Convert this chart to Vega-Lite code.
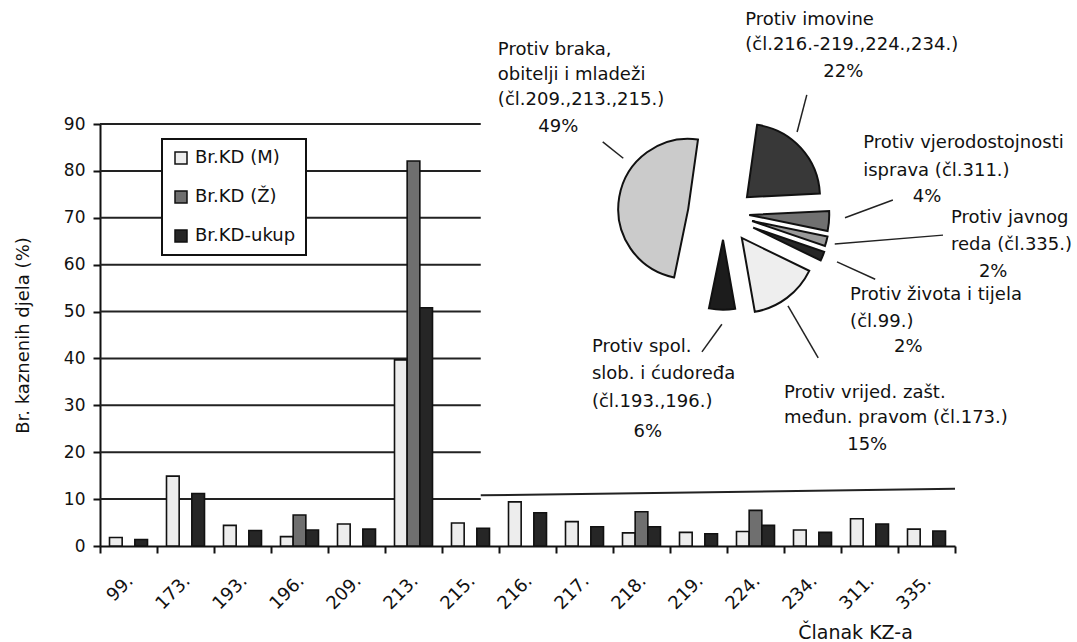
{
  "$schema": "https://vega.github.io/schema/vega-lite/v6.json",
  "width": 855,
  "height": 422,
  "autosize": {"type": "none"},
  "padding": {"left": 100, "top": 124, "right": 122, "bottom": 96},
  "background": "white",
  "config": {
    "view": {"stroke": null},
    "font": "DejaVu Sans",
    "axis": {
      "domainColor": "#111", "domainWidth": 2, "tickColor": "#111", "tickWidth": 2, "tickSize": 7,
      "labelColor": "#111", "labelFont": "DejaVu Sans", "titleFont": "DejaVu Sans",
      "titleColor": "#111", "titleFontWeight": "normal", "grid": false
    },
    "legend": {"labelFont": "DejaVu Sans", "strokeWidth": 2},
    "text": {"font": "DejaVu Sans"}
  },
  "datasets": {
    "bars": [
      {"art": "99.", "series": "Br.KD (M)", "val": 1.8}, {"art": "99.", "series": "Br.KD-ukup", "val": 1.4},
      {"art": "173.", "series": "Br.KD (M)", "val": 14.9}, {"art": "173.", "series": "Br.KD-ukup", "val": 11.2},
      {"art": "193.", "series": "Br.KD (M)", "val": 4.4}, {"art": "193.", "series": "Br.KD-ukup", "val": 3.3},
      {"art": "196.", "series": "Br.KD (M)", "val": 2.0}, {"art": "196.", "series": "Br.KD (Ž)", "val": 6.6}, {"art": "196.", "series": "Br.KD-ukup", "val": 3.4},
      {"art": "209.", "series": "Br.KD (M)", "val": 4.7}, {"art": "209.", "series": "Br.KD-ukup", "val": 3.6},
      {"art": "213.", "series": "Br.KD (M)", "val": 39.7}, {"art": "213.", "series": "Br.KD (Ž)", "val": 82.1}, {"art": "213.", "series": "Br.KD-ukup", "val": 50.8},
      {"art": "215.", "series": "Br.KD (M)", "val": 4.9}, {"art": "215.", "series": "Br.KD-ukup", "val": 3.8},
      {"art": "216.", "series": "Br.KD (M)", "val": 9.4}, {"art": "216.", "series": "Br.KD-ukup", "val": 7.1},
      {"art": "217.", "series": "Br.KD (M)", "val": 5.2}, {"art": "217.", "series": "Br.KD-ukup", "val": 4.1},
      {"art": "218.", "series": "Br.KD (M)", "val": 2.8}, {"art": "218.", "series": "Br.KD (Ž)", "val": 7.3}, {"art": "218.", "series": "Br.KD-ukup", "val": 4.1},
      {"art": "219.", "series": "Br.KD (M)", "val": 2.9}, {"art": "219.", "series": "Br.KD-ukup", "val": 2.6},
      {"art": "224.", "series": "Br.KD (M)", "val": 3.1}, {"art": "224.", "series": "Br.KD (Ž)", "val": 7.6}, {"art": "224.", "series": "Br.KD-ukup", "val": 4.4},
      {"art": "234.", "series": "Br.KD (M)", "val": 3.4}, {"art": "234.", "series": "Br.KD-ukup", "val": 2.9},
      {"art": "311.", "series": "Br.KD (M)", "val": 5.8}, {"art": "311.", "series": "Br.KD-ukup", "val": 4.7},
      {"art": "335.", "series": "Br.KD (M)", "val": 3.6}, {"art": "335.", "series": "Br.KD-ukup", "val": 3.2}
    ],
    "pie": [
      {"idx": 1, "slice": "imovine", "pct": 22},
      {"idx": 2, "slice": "vjerodostojnosti", "pct": 4},
      {"idx": 3, "slice": "javnog", "pct": 2},
      {"idx": 4, "slice": "zivota", "pct": 2},
      {"idx": 5, "slice": "vrijed", "pct": 15},
      {"idx": 6, "slice": "spol", "pct": 6},
      {"idx": 7, "slice": "braka", "pct": 49}
    ],
    "grid": [{"g": 20}, {"g": 30}, {"g": 40}, {"g": 50}, {"g": 60}, {"g": 70}, {"g": 80}, {"g": 90}],
    "one": [{"k": 1}]
  },
  "layer": [
    {
      "data": {"name": "grid"},
      "mark": {"type": "rule", "color": "#222", "strokeWidth": 2},
      "encoding": {
        "y": {"field": "g", "type": "quantitative"},
        "x": {"datum": "99.", "bandPosition": 0},
        "x2": {"datum": "215.", "bandPosition": 0.68}
      }
    },
    {
      "data": {"name": "one"},
      "mark": {"type": "rule", "color": "#222", "strokeWidth": 2},
      "encoding": {
        "y": {"datum": 10},
        "x": {"datum": "99.", "bandPosition": 0},
        "x2": {"datum": "215.", "bandPosition": 0.68}
      }
    },
    {
      "data": {"name": "one"},
      "mark": {"type": "rule", "color": "#222", "strokeWidth": 2},
      "encoding": {
        "y": {"datum": 10.8},
        "y2": {"datum": 12.2},
        "x": {"datum": "215.", "bandPosition": 0.68},
        "x2": {"datum": "335.", "bandPosition": 1}
      }
    },
    {
      "data": {"name": "bars"},
      "mark": {"type": "bar", "stroke": "#111", "strokeWidth": 1.6},
      "encoding": {
        "x": {
          "field": "art", "type": "nominal", "sort": null,
          "scale": {"domain": ["99.", "173.", "193.", "196.", "209.", "213.", "215.", "216.", "217.", "218.", "219.", "224.", "234.", "311.", "335."], "paddingInner": 0, "paddingOuter": 0},
          "axis": {"title": "Članak KZ-a", "labelAngle": -45, "labelFontSize": 18, "labelPadding": 25, "bandPosition": 1, "tickExtra": true, "labelOffset": 2, "titleFontSize": 19, "titleX": 755, "titleY": 86, "titleAlign": "center", "titleBaseline": "middle"}
        },
        "xOffset": {"field": "series", "type": "nominal", "scale": {"domain": ["Br.KD (M)", "Br.KD (Ž)", "Br.KD-ukup"], "paddingOuter": 0.75, "paddingInner": 0}},
        "y": {
          "field": "val", "type": "quantitative", "stack": null,
          "scale": {"domain": [0, 90], "nice": false},
          "axis": {"title": "Br. kaznenih djela (%)", "values": [0, 10, 20, 30, 40, 50, 60, 70, 80, 90], "labelFontSize": 17, "labelPadding": 8, "titleFontSize": 18, "titlePadding": 31}
        },
        "fill": {
          "field": "series", "type": "nominal",
          "scale": {"domain": ["Br.KD (M)", "Br.KD (Ž)", "Br.KD-ukup"], "range": ["#ededed", "#6f6f6f", "#262626"]},
          "legend": {
            "title": null, "orient": "none", "legendX": 62, "legendY": 15,
            "symbolType": "square", "symbolSize": 144, "symbolStrokeColor": "#111", "symbolStrokeWidth": 1.5,
            "labelFontSize": 18, "labelColor": "#111", "rowPadding": 21, "padding": 10,
            "strokeColor": "#111", "fillColor": "white", "labelOffset": 5
          }
        }
      }
    },
    {
      "data": {"name": "pie"},
      "transform": [{"stack": "pct", "groupby": [], "sort": [{"field": "idx"}], "as": ["t0", "t1"]}, {"filter": "datum.slice === 'imovine'"}],
      "mark": {"type": "arc", "radius": 73, "fill": "#383838", "stroke": "#111", "strokeWidth": 2},
      "encoding": {
        "theta": {"field": "t0", "type": "quantitative", "scale": {"domain": [0, 100], "range": [0.1396, 6.4228]}},
        "theta2": {"field": "t1"},
        "x": {"datum": "224.", "bandPosition": 0.35},
        "y": {"datum": 74.4}
      }
    },
    {
      "data": {"name": "pie"},
      "transform": [{"stack": "pct", "groupby": [], "sort": [{"field": "idx"}], "as": ["t0", "t1"]}, {"filter": "datum.slice === 'vjerodostojnosti'"}],
      "mark": {"type": "arc", "radius": 80, "fill": "#707070", "stroke": "#111", "strokeWidth": 2},
      "encoding": {
        "theta": {"field": "t0", "type": "quantitative"},
        "theta2": {"field": "t1"},
        "x": {"datum": "224.", "bandPosition": 0.39},
        "y": {"datum": 70.6}
      }
    },
    {
      "data": {"name": "pie"},
      "transform": [{"stack": "pct", "groupby": [], "sort": [{"field": "idx"}], "as": ["t0", "t1"]}, {"filter": "datum.slice === 'javnog'"}],
      "mark": {"type": "arc", "radius": 77, "fill": "#999999", "stroke": "#111", "strokeWidth": 2},
      "encoding": {
        "theta": {"field": "t0", "type": "quantitative"},
        "theta2": {"field": "t1"},
        "x": {"datum": "224.", "bandPosition": 0.44},
        "y": {"datum": 69.3}
      }
    },
    {
      "data": {"name": "pie"},
      "transform": [{"stack": "pct", "groupby": [], "sort": [{"field": "idx"}], "as": ["t0", "t1"]}, {"filter": "datum.slice === 'zivota'"}],
      "mark": {"type": "arc", "radius": 75, "fill": "#262626", "stroke": "#111", "strokeWidth": 2},
      "encoding": {
        "theta": {"field": "t0", "type": "quantitative"},
        "theta2": {"field": "t1"},
        "x": {"datum": "224.", "bandPosition": 0.46},
        "y": {"datum": 67.9}
      }
    },
    {
      "data": {"name": "pie"},
      "transform": [{"stack": "pct", "groupby": [], "sort": [{"field": "idx"}], "as": ["t0", "t1"]}, {"filter": "datum.slice === 'vrijed'"}],
      "mark": {"type": "arc", "radius": 75, "fill": "#eeeeee", "stroke": "#111", "strokeWidth": 2},
      "encoding": {
        "theta": {"field": "t0", "type": "quantitative"},
        "theta2": {"field": "t1"},
        "x": {"datum": "224.", "bandPosition": 0.26},
        "y": {"datum": 65.7}
      }
    },
    {
      "data": {"name": "pie"},
      "transform": [{"stack": "pct", "groupby": [], "sort": [{"field": "idx"}], "as": ["t0", "t1"]}, {"filter": "datum.slice === 'spol'"}],
      "mark": {"type": "arc", "radius": 70, "fill": "#1c1c1c", "stroke": "#111", "strokeWidth": 2},
      "encoding": {
        "theta": {"field": "t0", "type": "quantitative"},
        "theta2": {"field": "t1"},
        "x": {"datum": "219.", "bandPosition": 0.93},
        "y": {"datum": 65.3}
      }
    },
    {
      "data": {"name": "pie"},
      "transform": [{"stack": "pct", "groupby": [], "sort": [{"field": "idx"}], "as": ["t0", "t1"]}, {"filter": "datum.slice === 'braka'"}],
      "mark": {"type": "arc", "radius": 70, "fill": "#cbcbcb", "stroke": "#111", "strokeWidth": 2},
      "encoding": {
        "theta": {"field": "t0", "type": "quantitative"},
        "theta2": {"field": "t1"},
        "x": {"datum": "219.", "bandPosition": 0.32},
        "y": {"datum": 71.9}
      }
    },
    {
      "data": {"name": "one"},
      "mark": {"type": "rule", "color": "#222", "strokeWidth": 1.5},
      "encoding": {"x": {"datum": "234.", "bandPosition": 0.40}, "y": {"datum": 96.2}, "x2": {"datum": "234.", "bandPosition": 0.23}, "y2": {"datum": 88.3}}
    },
    {
      "data": {"name": "one"},
      "mark": {"type": "rule", "color": "#222", "strokeWidth": 1.5},
      "encoding": {"x": {"datum": "217.", "bandPosition": 0.82}, "y": {"datum": 86.2}, "x2": {"datum": "218.", "bandPosition": 0.18}, "y2": {"datum": 82.7}}
    },
    {
      "data": {"name": "one"},
      "mark": {"type": "rule", "color": "#222", "strokeWidth": 1.5},
      "encoding": {"x": {"datum": "311.", "bandPosition": 0.91}, "y": {"datum": 73.8}, "x2": {"datum": "311.", "bandPosition": 0.07}, "y2": {"datum": 70.0}}
    },
    {
      "data": {"name": "one"},
      "mark": {"type": "rule", "color": "#222", "strokeWidth": 1.5},
      "encoding": {"x": {"datum": "335.", "bandPosition": 0.79}, "y": {"datum": 66.3}, "x2": {"datum": "234.", "bandPosition": 0.89}, "y2": {"datum": 64.4}}
    },
    {
      "data": {"name": "one"},
      "mark": {"type": "rule", "color": "#222", "strokeWidth": 1.5},
      "encoding": {"x": {"datum": "234.", "bandPosition": 0.93}, "y": {"datum": 60.6}, "x2": {"datum": "311.", "bandPosition": 0.60}, "y2": {"datum": 56.9}}
    },
    {
      "data": {"name": "one"},
      "mark": {"type": "rule", "color": "#222", "strokeWidth": 1.5},
      "encoding": {"x": {"datum": "234.", "bandPosition": 0.07}, "y": {"datum": 51.2}, "x2": {"datum": "234.", "bandPosition": 0.60}, "y2": {"datum": 40.1}}
    },
    {
      "data": {"name": "one"},
      "mark": {"type": "rule", "color": "#222", "strokeWidth": 1.5},
      "encoding": {"x": {"datum": "219.", "bandPosition": 0.91}, "y": {"datum": 47.3}, "x2": {"datum": "219.", "bandPosition": 0.56}, "y2": {"datum": 41.4}}
    },
    {
      "data": {"name": "one"},
      "mark": {"type": "text", "align": "left", "baseline": "top", "fontSize": 18, "lineHeight": 25, "color": "#111"},
      "encoding": {"x": {"datum": "224.", "bandPosition": 0.32}, "y": {"datum": 114.1}, "text": {"value": ["Protiv imovine", "(čl.216.-219.,224.,234.)"]}}
    },
    {
      "data": {"name": "one"},
      "mark": {"type": "text", "align": "center", "baseline": "middle", "fontSize": 18, "color": "#111"},
      "encoding": {"x": {"datum": "311.", "bandPosition": 0.04}, "y": {"datum": 101.1}, "text": {"value": "22%"}}
    },
    {
      "data": {"name": "one"},
      "mark": {"type": "text", "align": "left", "baseline": "top", "fontSize": 18, "lineHeight": 25, "color": "#111"},
      "encoding": {"x": {"datum": "215.", "bandPosition": 0.98}, "y": {"datum": 107.7}, "text": {"value": ["Protiv braka,", "obitelji i mladeži", "(čl.209.,213.,215.)"]}}
    },
    {
      "data": {"name": "one"},
      "mark": {"type": "text", "align": "center", "baseline": "middle", "fontSize": 18, "color": "#111"},
      "encoding": {"x": {"datum": "217.", "bandPosition": 0.04}, "y": {"datum": 89.4}, "text": {"value": "49%"}}
    },
    {
      "data": {"name": "one"},
      "mark": {"type": "text", "align": "left", "baseline": "top", "fontSize": 18, "lineHeight": 28, "color": "#111"},
      "encoding": {"x": {"datum": "311.", "bandPosition": 0.39}, "y": {"datum": 87.9}, "text": {"value": ["Protiv vjerodostojnosti", "isprava (čl.311.)"]}}
    },
    {
      "data": {"name": "one"},
      "mark": {"type": "text", "align": "center", "baseline": "middle", "fontSize": 18, "color": "#111"},
      "encoding": {"x": {"datum": "335.", "bandPosition": 0.51}, "y": {"datum": 74.4}, "text": {"value": "4%"}}
    },
    {
      "data": {"name": "one"},
      "mark": {"type": "text", "align": "left", "baseline": "top", "fontSize": 18, "lineHeight": 27, "color": "#111"},
      "encoding": {"x": {"datum": "335.", "bandPosition": 0.93}, "y": {"datum": 71.9}, "text": {"value": ["Protiv javnog", "reda (čl.335.)"]}}
    },
    {
      "data": {"name": "one"},
      "mark": {"type": "text", "align": "center", "baseline": "middle", "fontSize": 18, "color": "#111"},
      "encoding": {"x": {"datum": "335.", "bandPosition": 1.67}, "y": {"datum": 58.4}, "text": {"value": "2%"}}
    },
    {
      "data": {"name": "one"},
      "mark": {"type": "text", "align": "left", "baseline": "top", "fontSize": 18, "lineHeight": 27, "color": "#111"},
      "encoding": {"x": {"datum": "311.", "bandPosition": 0.16}, "y": {"datum": 55.4}, "text": {"value": ["Protiv života i tijela", "(čl.99.)"]}}
    },
    {
      "data": {"name": "one"},
      "mark": {"type": "text", "align": "center", "baseline": "middle", "fontSize": 18, "color": "#111"},
      "encoding": {"x": {"datum": "335.", "bandPosition": 0.18}, "y": {"datum": 42.4}, "text": {"value": "2%"}}
    },
    {
      "data": {"name": "one"},
      "mark": {"type": "text", "align": "left", "baseline": "top", "fontSize": 18, "lineHeight": 25, "color": "#111"},
      "encoding": {"x": {"datum": "234.", "bandPosition": 0.0}, "y": {"datum": 34.5}, "text": {"value": ["Protiv vrijed. zašt.", "međun. pravom (čl.173.)"]}}
    },
    {
      "data": {"name": "one"},
      "mark": {"type": "text", "align": "center", "baseline": "middle", "fontSize": 18, "color": "#111"},
      "encoding": {"x": {"datum": "311.", "bandPosition": 0.46}, "y": {"datum": 21.5}, "text": {"value": "15%"}}
    },
    {
      "data": {"name": "one"},
      "mark": {"type": "text", "align": "left", "baseline": "top", "fontSize": 18, "lineHeight": 27.5, "color": "#111"},
      "encoding": {"x": {"datum": "217.", "bandPosition": 0.63}, "y": {"datum": 44.4}, "text": {"value": ["Protiv spol.", "slob. i ćudoređa", "(čl.193.,196.)"]}}
    },
    {
      "data": {"name": "one"},
      "mark": {"type": "text", "align": "center", "baseline": "middle", "fontSize": 18, "color": "#111"},
      "encoding": {"x": {"datum": "218.", "bandPosition": 0.61}, "y": {"datum": 24.3}, "text": {"value": "6%"}}
    }
  ]
}
